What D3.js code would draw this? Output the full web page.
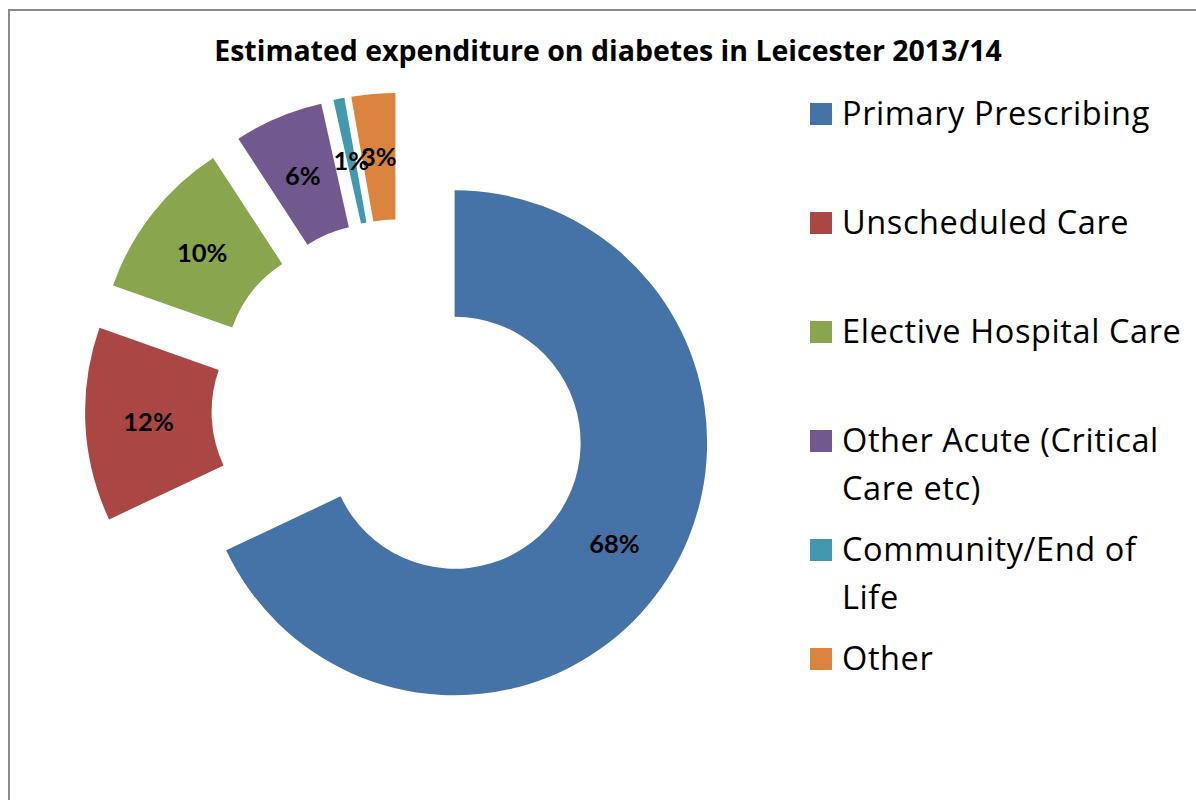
<!DOCTYPE html>
<html>
<head>
<meta charset="utf-8">
<script src="https://cdn.jsdelivr.net/npm/d3@7"></script>
<style>
  body { margin: 0; background: #fff; }
  svg { display: block; }
</style>
</head>
<body>
<svg id="chart" width="1196" height="800"></svg>
<script>
// Spending categories and their shares (%) of the total
const categories = [
  "Primary Prescribing",
  "Unscheduled Care",
  "Elective Hospital Care",
  "Other Acute (Critical Care etc)",
  "Community/End of Life",
  "Other"
];
const legendLines = [
  ["Primary Prescribing"],
  ["Unscheduled Care"],
  ["Elective Hospital Care"],
  ["Other Acute (Critical", "Care etc)"],
  ["Community/End of", "Life"],
  ["Other"]
];
const shares = [68.0, 12.4, 10.4, 5.7, 0.7, 2.8];
const colors = ["#4572A7", "#AA4643", "#89A54E", "#71588F", "#4198AF", "#DB843D"];
const title = "Estimated expenditure on diabetes in Leicester 2013/14";

const TEXT_FONT = "'Open Sans', 'Noto Sans', sans-serif";
const LABEL_FONT = "Lato, 'Open Sans', sans-serif";
const svg = d3.select("#chart");

// Outer frame (runs off the right and bottom edges)
svg.append("rect")
  .attr("x", 9).attr("y", 10)
  .attr("width", 1400).attr("height", 1000)
  .attr("fill", "#fff")
  .attr("stroke", "#8a8a8a")
  .attr("stroke-width", 2);

// Title
svg.append("text")
  .attr("x", 608).attr("y", 61)
  .attr("text-anchor", "middle")
  .attr("font-family", TEXT_FONT)
  .attr("font-weight", 700)
  .attr("font-size", 28.5)
  .attr("fill", "#000")
  .text(title);

// Exploded donut
const cx = 401, cy = 408.7;
const outerR = 252.5, innerR = 126, explode = 63.5;

const total = d3.sum(shares);
const pie = d3.pie().sort(null).value(d => d);
const arcs = pie(shares);
const arc = d3.arc().innerRadius(innerR).outerRadius(outerR);
const pct = d3.format(".0%");

const offset = d => {
  const mid = (d.startAngle + d.endAngle) / 2;
  return [Math.sin(mid) * explode, -Math.cos(mid) * explode];
};

svg.append("g")
  .selectAll("path")
  .data(arcs)
  .join("path")
  .attr("transform", d => {
    const [ox, oy] = offset(d);
    return `translate(${cx + ox},${cy + oy})`;
  })
  .attr("d", arc)
  .attr("fill", (d, i) => colors[i]);

// Percentage labels (drawn after all slices so they sit on top)
svg.append("g")
  .selectAll("text")
  .data(arcs)
  .join("text")
  .attr("transform", d => {
    const [ox, oy] = offset(d);
    const [x, y] = arc.centroid(d);
    return `translate(${cx + ox + x},${cy + oy + y})`;
  })
  .attr("text-anchor", "middle")
  .attr("dy", "0.36em")
  .attr("font-family", LABEL_FONT)
  .attr("font-weight", 700)
  .attr("font-size", 25.5)
  .attr("fill", "#000")
  .text(d => pct(d.value / total));

// Legend
const legendY = d3.scalePoint().domain(categories).range([114, 659]);
const legend = svg.append("g")
  .selectAll("g")
  .data(categories)
  .join("g")
  .attr("transform", d => `translate(810,${legendY(d)})`);

legend.append("rect")
  .attr("x", 0).attr("y", -11)
  .attr("width", 22).attr("height", 22)
  .attr("fill", (d, i) => colors[i]);

legend.append("text")
  .attr("y", 10.5)
  .attr("font-family", TEXT_FONT)
  .attr("font-size", 32.5)
  .attr("letter-spacing", 0.6)
  .attr("fill", "#000")
  .selectAll("tspan")
  .data((d, i) => legendLines[i])
  .join("tspan")
  .attr("x", 32)
  .attr("dy", (t, j) => j === 0 ? 0 : 48.5)
  .text(t => t);
</script>
</body>
</html>
